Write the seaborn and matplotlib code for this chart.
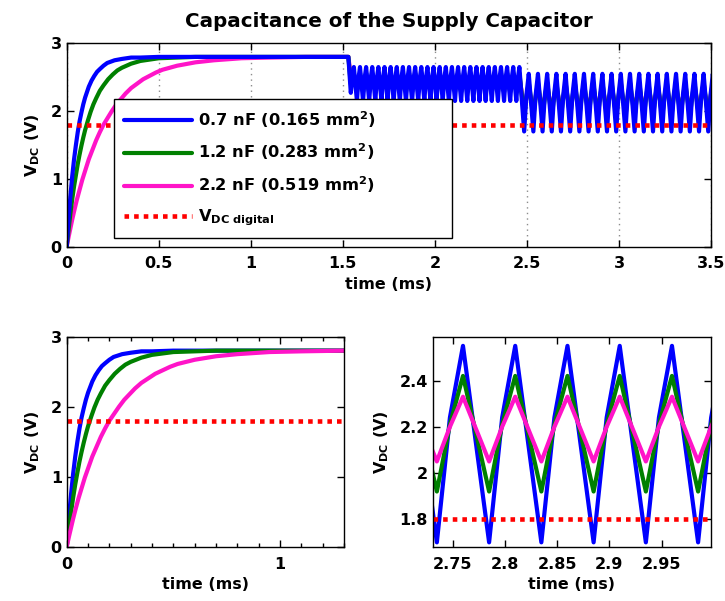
import numpy as np
import pandas as pd
import seaborn as sns
import matplotlib
matplotlib.use("Agg")
import matplotlib.pyplot as plt
from matplotlib.lines import Line2D
from matplotlib.ticker import MultipleLocator

sns.set_style("ticks")
plt.rcParams['font.family'] = ['DejaVu Sans']
plt.rcParams['font.weight'] = 'bold'
plt.rcParams['axes.labelweight'] = 'bold'
plt.rcParams['axes.titleweight'] = 'bold'
plt.rcParams['mathtext.fontset'] = 'dejavusans'
plt.rcParams['axes.edgecolor'] = 'black'
plt.rcParams['text.color'] = 'black'
plt.rcParams['axes.labelcolor'] = 'black'
plt.rcParams['xtick.color'] = 'black'
plt.rcParams['ytick.color'] = 'black'

#DATA
labels = ['0.7 nF (0.165 mm$^{\\mathbf{2}}$)',
          '1.2 nF (0.283 mm$^{\\mathbf{2}}$)',
          '2.2 nF (0.519 mm$^{\\mathbf{2}}$)']
colors = ['#0000ff', '#008000', '#ff14c8']
v_digital = 1.8

##start-up charging (ms, V)
t_07 = [0, 0.01, 0.02, 0.03, 0.04, 0.05, 0.06, 0.07, 0.08, 0.09, 0.10, 0.11,
        0.12, 0.135, 0.15, 0.165, 0.18, 0.20, 0.22, 0.24, 0.26, 0.30, 0.35,
        0.40, 0.50, 0.60]
v_07 = [0, 0.40, 0.74, 1.04, 1.29, 1.50, 1.69, 1.85, 1.98, 2.10, 2.20, 2.28,
        2.36, 2.45, 2.52, 2.58, 2.62, 2.67, 2.71, 2.73, 2.75, 2.77, 2.79,
        2.79, 2.80, 2.80]
t_12 = [0, 0.01, 0.02, 0.03, 0.04, 0.05, 0.06, 0.07, 0.08, 0.09, 0.10, 0.115,
        0.13, 0.145, 0.16, 0.18, 0.20, 0.225, 0.25, 0.275, 0.30, 0.35, 0.40,
        0.50, 0.60, 0.70, 0.80]
v_12 = [0, 0.25, 0.49, 0.70, 0.89, 1.06, 1.22, 1.36, 1.49, 1.61, 1.72, 1.86,
        1.99, 2.10, 2.19, 2.30, 2.38, 2.47, 2.54, 2.60, 2.64, 2.70, 2.74,
        2.78, 2.79, 2.80, 2.80]
t_22 = [0, 0.01, 0.02, 0.03, 0.04, 0.055, 0.07, 0.085, 0.10, 0.12, 0.14, 0.16,
        0.18, 0.20, 0.22, 0.245, 0.27, 0.295, 0.32, 0.35, 0.38, 0.415, 0.45,
        0.485, 0.52, 0.60, 0.70, 0.80, 0.95, 1.10, 1.30]
v_22 = [0, 0.14, 0.27, 0.40, 0.52, 0.69, 0.84, 0.99, 1.12, 1.29, 1.43, 1.57,
        1.69, 1.80, 1.89, 2.00, 2.10, 2.18, 2.26, 2.34, 2.40, 2.47, 2.52,
        2.57, 2.61, 2.67, 2.72, 2.75, 2.78, 2.79, 2.80]
charge_t = [t_07, t_12, t_22]
charge_v = [v_07, v_12, v_22]
v_settled = 2.80
t_load1 = 1.53     # first load step
first_dip = [2.27, 2.40, 2.52]

##ripple after load steps: trough / mid-rise / peak (V)
ripple1_start, ripple1_end, ripple1_period = 1.5433, 2.45, 0.0333
ripple1_low = [2.15, 2.28, 2.36]
ripple1_mid = [2.48, 2.45, 2.44]
ripple1_high = [2.65, 2.56, 2.50]
ripple2_start, ripple2_end, ripple2_period = 2.485, 3.5, 0.05
ripple2_low = [1.70, 1.92, 2.05]
ripple2_mid = [2.24, 2.21, 2.20]
ripple2_high = [2.55, 2.42, 2.33]

top_xticks = [0, 0.5, 1, 1.5, 2, 2.5, 3, 3.5]
top_xlabels = ['0', '0.5', '1', '1.5', '2', '2.5', '3', '3.5']
br_xticks = [2.75, 2.8, 2.85, 2.9, 2.95]
br_xlabels = ['2.75', '2.8', '2.85', '2.9', '2.95']
br_yticks = [1.8, 2.0, 2.2, 2.4]
br_ylabels = ['1.8', '2', '2.2', '2.4']


def ripple(start, end, period, low, mid, high):
    # repeat one measured cycle: trough -> mid rise -> peak -> next trough
    t, v = [], []
    for s in np.arange(start, end, period):
        t += [s, s + period / 4, s + period / 2]
        v += [low, mid, high]
    return t, v


series = []
for i in range(3):
    r1t, r1v = ripple(ripple1_start, ripple1_end, ripple1_period,
                      ripple1_low[i], ripple1_mid[i], ripple1_high[i])
    r1v[0] = first_dip[i]
    r2t, r2v = ripple(ripple2_start, ripple2_end + ripple2_period, ripple2_period,
                      ripple2_low[i], ripple2_mid[i], ripple2_high[i])
    t = list(charge_t[i]) + [t_load1] + r1t + r2t
    v = list(charge_v[i]) + [v_settled] + r1v + r2v
    series.append(pd.DataFrame({'time': t, 'vdc': v}))

fs = 11.5
dots = (0, (1, 1.1))

fig = plt.figure(figsize=(7.25, 6.01), dpi=100)
ax_top = fig.add_axes([0.092, 0.5895, 0.8887, 0.3384])
ax_bl = fig.add_axes([0.092, 0.0899, 0.3825, 0.35])
ax_br = fig.add_axes([0.5968, 0.0899, 0.3834, 0.35])

#TOP: full run
for i in [2, 1, 0]:
    sns.lineplot(data=series[i], x='time', y='vdc', ax=ax_top, color=colors[i],
                 lw=3, estimator=None, sort=False)
ax_top.axhline(v_digital, color='red', lw=3.3, ls=dots)
ax_top.set_xlim(0, 3.5)
ax_top.set_ylim(0, 3)
ax_top.set_xticks(top_xticks)
ax_top.set_xticklabels(top_xlabels)
ax_top.set_yticks([0, 1, 2, 3])
ax_top.set_yticklabels(['0', '1', '2', '3'])
ax_top.grid(axis='x', color='0.55', ls=(0, (1, 3)), lw=1)
ax_top.set_title('Capacitance of the Supply Capacitor', fontsize=14.3, pad=12)

handles = [Line2D([], [], color=c, lw=3) for c in colors]
handles.append(Line2D([], [], color='red', lw=3.3, ls=dots))
leg = ax_top.legend(handles, labels + ['$\\mathbf{V_{DC\\ digital}}$'],
                    loc='upper left', bbox_to_anchor=(0.0734, 0.033, 0.525, 0.693),
                    mode='expand', borderaxespad=0, fancybox=False, framealpha=1,
                    edgecolor='black', handlelength=4.2, handletextpad=0.4,
                    borderpad=0.6, labelspacing=0.75,
                    prop={'weight': 'bold', 'size': 11.7})
leg.get_frame().set_linewidth(1)

#BOTTOM LEFT: start-up
for i in [0, 1, 2]:
    sns.lineplot(data=series[i], x='time', y='vdc', ax=ax_bl, color=colors[i],
                 lw=3, estimator=None, sort=False)
ax_bl.axhline(v_digital, color='red', lw=3.3, ls=dots)
ax_bl.set_xlim(0, 1.3)
ax_bl.set_ylim(0, 3)
ax_bl.set_xticks([0, 1])
ax_bl.set_xticklabels(['0', '1'])
ax_bl.xaxis.set_minor_locator(MultipleLocator(0.1))
ax_bl.set_yticks([0, 1, 2, 3])
ax_bl.set_yticklabels(['0', '1', '2', '3'])

#BOTTOM RIGHT: ripple detail
for i in [0, 1, 2]:
    sns.lineplot(data=series[i], x='time', y='vdc', ax=ax_br, color=colors[i],
                 lw=3, estimator=None, sort=False)
ax_br.axhline(v_digital, color='red', lw=3.3, ls=dots)
ax_br.set_xlim(2.731, 2.997)
ax_br.set_ylim(1.68, 2.59)
ax_br.set_xticks(br_xticks)
ax_br.set_xticklabels(br_xlabels)
ax_br.set_yticks(br_yticks)
ax_br.set_yticklabels(br_ylabels)

for ax in [ax_top, ax_bl, ax_br]:
    ax.set_xlabel('time (ms)', fontsize=fs, labelpad=4)
    ax.set_ylabel('$\\mathbf{V_{DC}}$ (V)', fontsize=fs, labelpad=6)
    ax.tick_params(which='both', direction='in', top=True, right=True,
                   labelsize=fs, width=1, color='black')
    ax.tick_params(which='major', length=5)
    ax.tick_params(which='minor', length=3)
    ax.tick_params(axis='x', pad=7)
    ax.tick_params(axis='y', pad=3.5)
    for s in ax.spines.values():
        s.set_linewidth(1)
        s.set_color('black')

plt.savefig('out.png', dpi=100)
